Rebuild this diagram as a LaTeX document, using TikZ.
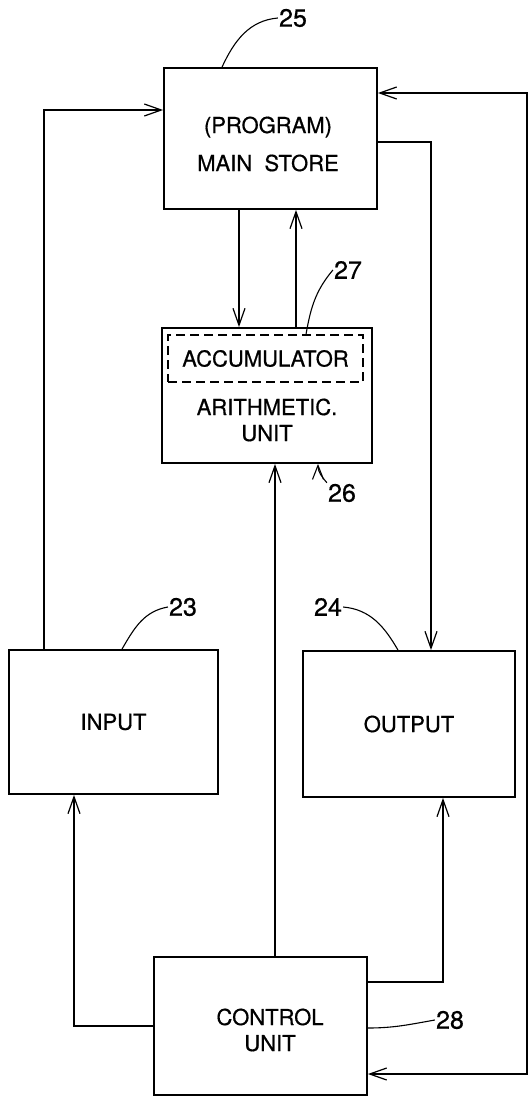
\documentclass[tikz,border=0pt]{standalone}
\usepackage{fontspec}
\setmainfont{TeX Gyre Heros}
\newfontfamily\patfont{TeX Gyre Heros}[FakeBold=0.6]
\usetikzlibrary{arrows.meta, positioning, calc}

\begin{document}
\begin{tikzpicture}[x=1pt, y=-1pt,
    every node/.style={font=\patfont\fontsize{22}{26}\selectfont},
    block/.style={draw, line width=1.8pt, inner sep=0pt},
    accbox/.style={draw, dash pattern=on 9pt off 5pt, line width=1.3pt, inner sep=0pt},
    link/.style={line width=1.2pt},
    arr/.style={link, -{Straight Barb[length=17pt, width=12pt, line width=1.2pt]}},
    dblarr/.style={link, {Straight Barb[length=17pt, width=12pt, line width=1.2pt]}-{Straight Barb[length=17pt, width=12pt, line width=1.2pt]}},
    refnum/.style={font=\patfont\fontsize{25}{28}\selectfont, inner sep=1pt},
    leader/.style={line width=1.1pt}
]
    \useasboundingbox (0,0) rectangle (531,1097);

    % Units
    \node[block, minimum width=213pt, minimum height=141pt] (store) at (270.5,138.5) {};
    \node[align=center] (store-txt) at (268,144) {(PROGRAM)\\[12pt]MAIN\ \ STORE};

    \node[block, minimum width=210pt, minimum height=135pt] (alu) at (267,395.5) {};
    \node[accbox, minimum width=195pt, minimum height=47pt] (acc) at (265.5,358.5) {ACCUMULATOR};
    \node[align=center] (alu-txt) at (267,420) {ARITHMETIC.\\UNIT};

    \node[block, minimum width=209pt, minimum height=144pt] (input) at (113.5,722) {INPUT};
    \node[block, minimum width=212pt, minimum height=146pt] (output) at (409,724) {OUTPUT};

    \node[block, minimum width=213pt, minimum height=138pt] (ctrl) at (260.5,1026) {};
    \node[align=center] (ctrl-txt) at (270,1030) {CONTROL\\UNIT};

    % Bus points
    \coordinate (inbus)  at (44,110);
    \coordinate (outbus) at (431,142);
    \coordinate (fbtop)  at (527,93);
    \coordinate (fbbot)  at (527,1074);
    \coordinate (ctlin)  at (74,1026);
    \coordinate (ctlout) at (443,982);

    % Data paths
    \draw[arr] (input.north -| inbus) |- (store.west |- inbus);
    \draw[arr] (store.east |- outbus) -| (output.north -| outbus);
    \draw[arr] (store.south -| 239,0) -- (alu.north -| 239,0);
    \draw[arr] (alu.north -| 296,0) -- (store.south -| 296,0);

    % Control paths
    \draw[arr] (ctrl.north -| 275,0) -- (alu.south -| 275,0);
    \draw[arr] (ctrl.west) -| (input.south -| ctlin);
    \draw[arr] (ctrl.east |- ctlout) -| (output.south -| ctlout);
    \draw[dblarr] (store.east |- fbtop) -| (fbbot) -- (ctrl.east |- fbbot);

    % Reference numerals
    \node[refnum] (n25) at (293,18) {25};
    \draw[leader] (store.north -| 222,0) to[out=65, in=185] (n25.west);
    \node[refnum] (n27) at (348,270) {27};
    \draw[leader] (acc.north -| 306,0) to[out=80, in=230] (n27.west);
    \node[refnum] (n26) at (342,493) {26};
    \draw[leader, -{Straight Barb[length=14pt, width=11pt, line width=1.1pt]}] (n26.north west) to[out=130, in=-90] (alu.south -| 318,0);
    \node[refnum] (n23) at (183,607) {23};
    \draw[leader] (input.north -| 122,0) to[out=60, in=190] (n23.west);
    \node[refnum] (n24) at (328,607) {24};
    \draw[leader] (n24.east) to[out=-5, in=120] (output.north -| 398,0);
    \node[refnum] (n28) at (450,1020) {28};
    \draw[leader] (ctrl.east |- 0,1028) to[out=0, in=190] (n28.west);
\end{tikzpicture}
\end{document}
